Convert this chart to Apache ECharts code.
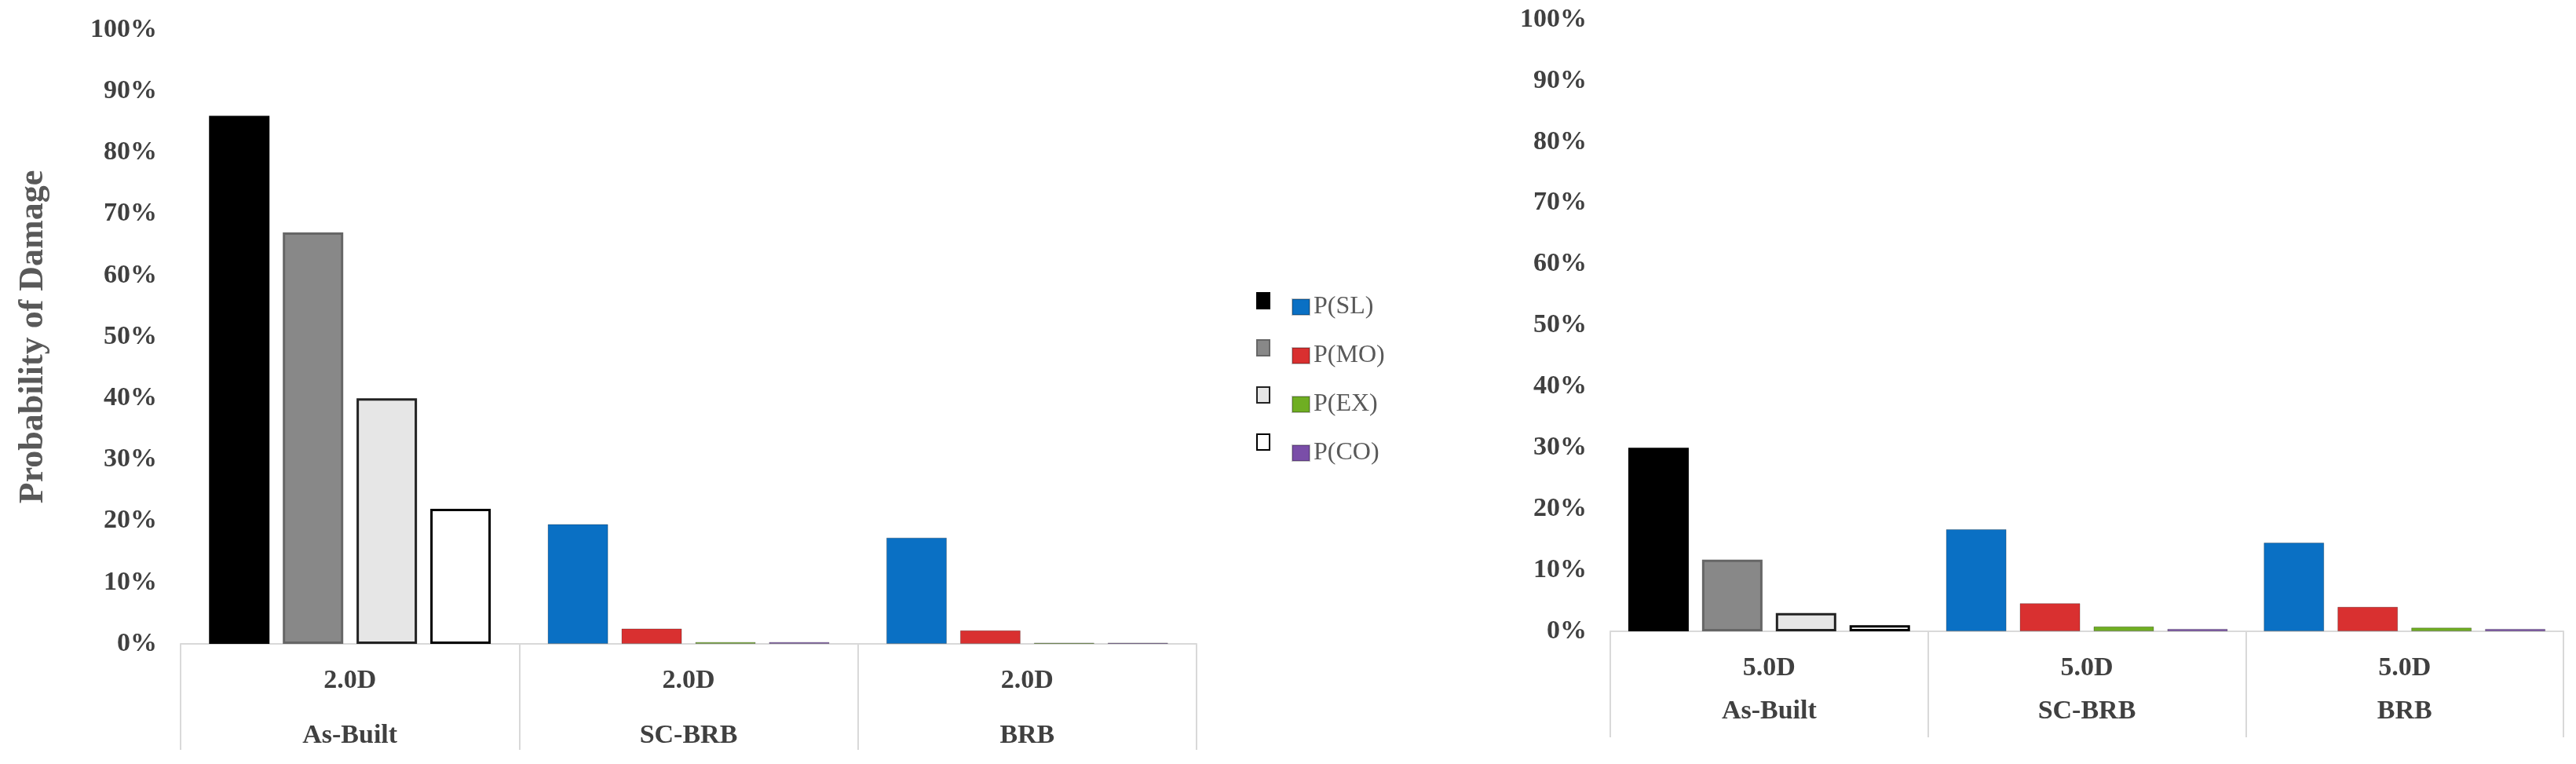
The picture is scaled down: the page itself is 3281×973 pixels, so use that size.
<!DOCTYPE html>
<html>
<head>
<meta charset="utf-8">
<script src="https://cdn.jsdelivr.net/npm/echarts@6/dist/echarts.min.js"></script>
<style>html,body{margin:0;background:#fff}#chart{width:3281px;height:973px}</style>
</head>
<body>
<div id="chart"></div>
<script>
// data (percent)
const groups = ['As-Built', 'SC-BRB', 'BRB'];
const leftLevel = ['2.0D', '2.0D', '2.0D'];
const rightLevel = ['5.0D', '5.0D', '5.0D'];
const seriesNames = ['P(SL)', 'P(MO)', 'P(EX)', 'P(CO)'];
const left2D = [
    [86, 19.5, 17.3],
    [67, 2.5, 2.2],
    [40, 0.3, 0.2],
    [22, 0.3, 0.2]
];
const right5D = [
    [30, 16.7, 14.5],
    [11.7, 4.6, 4.0],
    [3, 0.8, 0.6],
    [1, 0.4, 0.4]
];
const colorSeries = ['#0a70c4', '#d93030', '#6fae22', '#7a4ea8'];
const grayFill = ['#000000', '#888888', '#e6e6e6', '#ffffff'];
const grayBorder = ['#000000', '#666666', '#222222', '#000000'];

const font = 'Liberation Serif';
const grid = (g) => g;

function axesFor(gi, level) {
    return [
        {
            type: 'category', gridIndex: gi, data: level,
            axisLine: {lineStyle: {color: '#d9d9d9', width: 2}},
            axisTick: {show: true, length: 135, lineStyle: {color: '#d9d9d9', width: 2}},
            axisLabel: {fontFamily: font, fontWeight: 'bold', fontSize: 34, color: '#404040', margin: 30}
        },
        {
            type: 'category', gridIndex: gi, data: groups, position: 'bottom',
            axisLine: {show: false}, axisTick: {show: false},
            axisLabel: {fontFamily: font, fontWeight: 'bold', fontSize: 34, color: '#404040', margin: gi === 0 ? 100 : 85}
        }
    ];
}

const series = [];
function addSeries(values, xi, yi) {
    values.forEach((vals, i) => {
        series.push({
            name: seriesNames[i], type: 'bar', xAxisIndex: xi, yAxisIndex: yi,
            barWidth: 77, barGap: '22%',
            itemStyle: {color: colorSeries[i], borderColor: 'rgba(0,0,0,0.25)', borderWidth: 1},
            data: vals.map((v, k) => k === 0
                ? {value: v, itemStyle: {color: grayFill[i], borderColor: grayBorder[i], borderWidth: 3}}
                : v)
        });
    });
}
addSeries(left2D, 0, 0);
addSeries(right5D, 2, 1);

const yAxisBase = (gi) => ({
    type: 'value', gridIndex: gi, min: 0, max: 100, interval: 10,
    splitLine: {show: false}, axisLine: {show: false}, axisTick: {show: false},
    axisLabel: {formatter: '{value}%', fontFamily: font, fontWeight: 'bold', fontSize: 34, color: '#404040', margin: 30}
});

const chart = echarts.init(document.getElementById('chart'));
chart.setOption({
    animation: false,
    grid: [
        {left: 230, right: 1757, top: 38, bottom: 153},
        {left: 2051, right: 16, top: 25, bottom: 169}
    ],
    xAxis: [...axesFor(0, leftLevel), ...axesFor(1, rightLevel)],
    yAxis: [
        Object.assign(yAxisBase(0), {
            name: 'Probability of Damage', nameLocation: 'middle', nameGap: 165,
            nameTextStyle: {fontFamily: font, fontWeight: 'bold', fontSize: 44, color: '#595959'}
        }),
        yAxisBase(1)
    ],
    legend: {
        orient: 'vertical', left: 1640, top: 370, itemGap: 30,
        itemWidth: 22, itemHeight: 20, icon: 'rect',
        data: seriesNames,
        textStyle: {fontFamily: font, fontSize: 32, color: '#595959'}
    },
    graphic: grayFill.map((c, i) => ({
        type: 'rect', left: 1600, top: 372 + i * 60,
        shape: {width: 16, height: 20},
        style: {fill: c, stroke: grayBorder[i], lineWidth: 2}
    })),
    series: series
});
</script>
</body>
</html>
